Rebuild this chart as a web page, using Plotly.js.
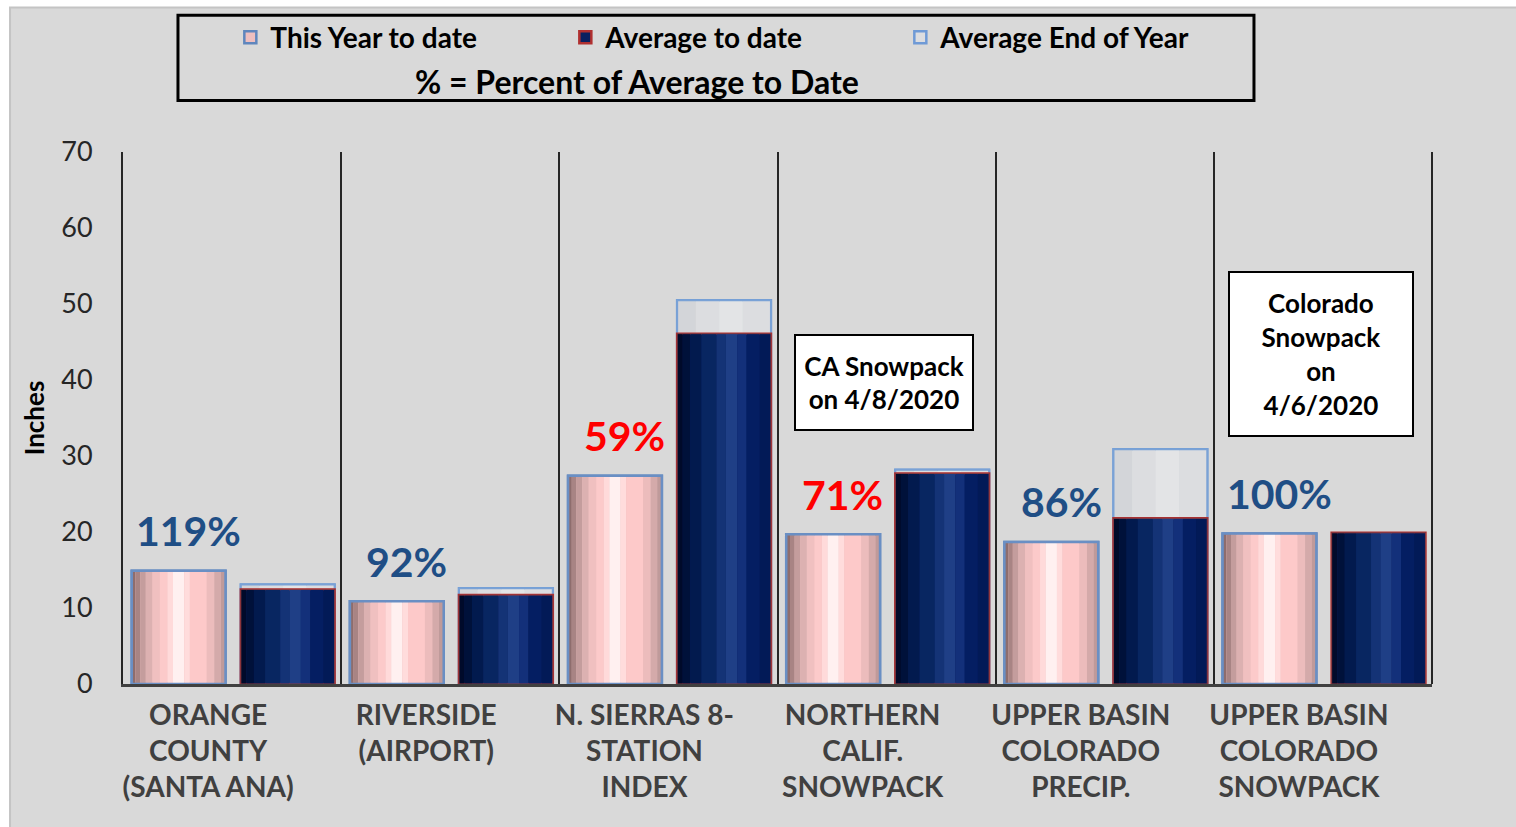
<!DOCTYPE html>
<html>
<head>
<meta charset="utf-8">
<script src="https://cdn.plot.ly/plotly-3.0.1.min.js"></script>
<style>
  html, body { margin: 0; padding: 0; background: #ffffff; }
  #chart { width: 1516px; height: 827px; }
</style>
</head>
<body>
<div id="chart"></div>
<script>
// data (inches)
const categories = [
    'ORANGE<br>COUNTY<br>(SANTA ANA)',
    'RIVERSIDE<br>(AIRPORT)',
    'N. SIERRAS 8-<br>STATION<br>INDEX',
    'NORTHERN<br>CALIF.<br>SNOWPACK',
    'UPPER BASIN<br>COLORADO<br>PRECIP.',
    'UPPER BASIN<br>COLORADO<br>SNOWPACK'
];
const thisYear = [14.9, 10.9, 27.4, 19.7, 18.7, 19.8];
const avgToDate = [12.45, 11.7, 46.1, 27.7, 21.8, 19.9];
const avgEndOfYear = [13.1, 12.6, 50.5, 28.2, 30.9, null];
const pctLabels = ['119%', '92%', '59%', '71%', '86%', '100%'];
const pctValues = [119, 92, 59, 71, 86, 100];
const yTicks = [0, 10, 20, 30, 40, 50, 60, 70];

const FONT = 'Lato, "Open Sans", sans-serif';
const BAR_W = 0.43;
const PINK_OFF = -0.46;
const NAVY_OFF = 0.04;

// fake the rounded "cylinder" shading with thin stripes of bars
function stripes(values, offset, stops) {
    return stops.map(([a, b, color]) => ({
        type: 'bar',
        x: categories,
        y: values,
        offset: offset + a * BAR_W,
        width: (b - a) * BAR_W,
        marker: { color: color, line: { width: 0 } },
        showlegend: false,
        hoverinfo: 'skip'
    }));
}

function outline(values, offset, color, w) {
    return {
        type: 'bar',
        x: categories,
        y: values,
        offset: offset,
        width: BAR_W,
        marker: { color: 'rgba(0,0,0,0)', line: { color: color, width: w } },
        showlegend: false,
        hoverinfo: 'skip'
    };
}

const pinkStops = [
    [0.00, 0.04, '#8e6d6d'], [0.04, 0.09, '#a88484'], [0.09, 0.15, '#c49d9d'],
    [0.15, 0.22, '#dcb1b1'], [0.22, 0.30, '#f0c0c0'], [0.30, 0.38, '#fccaca'],
    [0.38, 0.44, '#ffdada'], [0.44, 0.56, '#fff0f0'], [0.56, 0.62, '#ffdcdc'],
    [0.62, 0.80, '#fdc9c9'], [0.80, 0.88, '#ecbcbc'], [0.88, 0.95, '#d4aaaa'],
    [0.95, 1.00, '#bf9a9a']
];
const navyStops = [
    [0.00, 0.06, '#000a2a'], [0.06, 0.14, '#00113a'], [0.14, 0.26, '#021a4e'],
    [0.26, 0.42, '#082661'], [0.42, 0.52, '#143376'], [0.52, 0.64, '#1f3f86'],
    [0.64, 0.74, '#13307a'], [0.74, 0.88, '#041e62'], [0.88, 1.00, '#021a57']
];
const endStops = [
    [0.00, 0.20, '#d3d5d9'], [0.20, 0.45, '#dcdde0'], [0.45, 0.70, '#e3e4e6'],
    [0.70, 1.00, '#dcdde0']
];

const traces = [];

// average end of year (behind the navy bar)
traces.push({
    type: 'bar', name: 'Average End of Year', x: categories, y: avgEndOfYear,
    offset: NAVY_OFF, width: BAR_W, legendrank: 3,
    marker: { color: '#dcdde0', line: { color: '#6f9ad6', width: 2.5 } },
    hoverinfo: 'skip'
});
traces.push(...stripes(avgEndOfYear, NAVY_OFF, endStops));
traces.push(outline(avgEndOfYear, NAVY_OFF, '#7aa2d6', 2));

// average to date
traces.push({
    type: 'bar', name: 'Average to date', x: categories, y: avgToDate,
    offset: NAVY_OFF, width: BAR_W, legendrank: 2,
    marker: { color: '#0a2060', line: { color: '#b03030', width: 2.5 } },
    hoverinfo: 'skip'
});
traces.push(...stripes(avgToDate, NAVY_OFF, navyStops));
traces.push(outline(avgToDate, NAVY_OFF, '#8a3a40', 1));

// this year to date
traces.push({
    type: 'bar', name: 'This Year to date', x: categories, y: thisYear,
    offset: PINK_OFF, width: BAR_W, legendrank: 1,
    marker: { color: '#eebfbf', line: { color: '#5f86bd', width: 2.5 } },
    hoverinfo: 'skip'
});
traces.push(...stripes(thisYear, PINK_OFF, pinkStops));
traces.push(outline(thisYear, PINK_OFF, '#6a8fc4', 2.5));

const annotations = pctLabels.map((t, i) => ({
    x: i - 0.2,
    y: thisYear[i],
    xref: 'x',
    yref: 'y',
    xanchor: 'center',
    yanchor: 'middle',
    text: t,
    showarrow: false,
    yshift: 40,
    font: { family: FONT, size: 41, weight: 'bold', color: pctValues[i] < 75 ? '#ff0000' : '#1f4e85' }
}));

annotations.push({
    xref: 'paper', yref: 'paper', x: 0.393, y: 1.133,
    xanchor: 'center', yanchor: 'middle',
    text: '% = Percent of Average to Date',
    showarrow: false, font: { family: FONT, size: 32, weight: 'bold', color: '#000000' }
});
annotations.push({
    xref: 'paper', yref: 'paper', x: 0.581, y: 0.567,
    xanchor: 'center', yanchor: 'middle',
    text: 'CA Snowpack<br>on 4/8/2020',
    showarrow: false, bgcolor: '#ffffff', bordercolor: '#000000', borderwidth: 2,
    width: 174, height: 91, align: 'center',
    font: { family: FONT, size: 26, weight: 'bold', color: '#000000' }
});
annotations.push({
    xref: 'paper', yref: 'paper', x: 0.915, y: 0.620,
    xanchor: 'center', yanchor: 'middle',
    text: 'Colorado<br>Snowpack<br>on<br>4/6/2020',
    showarrow: false, bgcolor: '#ffffff', bordercolor: '#000000', borderwidth: 2,
    width: 180, height: 160, align: 'center',
    font: { family: FONT, size: 26, weight: 'bold', color: '#000000' }
});

const layout = {
    width: 1516,
    height: 827,
    margin: { l: 123, r: 84, t: 150, b: 143, pad: 0 },
    paper_bgcolor: '#ffffff',
    plot_bgcolor: '#d9d9d9',
    barmode: 'overlay',
    showlegend: true,
    hovermode: false,
    legend: {
        orientation: 'h',
        x: 0.082, xanchor: 'left',
        y: 1.262, yanchor: 'top',
        entrywidth: 290, entrywidthmode: 'pixels',
        bgcolor: 'rgba(0,0,0,0)',
        traceorder: 'normal',
        font: { family: FONT, size: 28, weight: 'bold', color: '#000000' }
    },
    xaxis: {
        type: 'category',
        range: [-0.5, 5.5],
        tickson: 'boundaries',
        showgrid: true,
        gridcolor: '#262626',
        gridwidth: 2,
        ticks: '',
        showline: true,
        linecolor: '#404040',
        linewidth: 3,
        ticklabelshift: -24,
        ticklabelstandoff: 4,
        tickfont: { family: FONT, size: 28, color: '#404040', weight: 'bold' },
        fixedrange: true
    },
    yaxis: {
        range: [0, 70],
        tickvals: yTicks,
        showgrid: false,
        zeroline: false,
        showline: true,
        linecolor: '#262626',
        linewidth: 2,
        ticks: '',
        ticklabelstandoff: 23,
        tickfont: { family: FONT, size: 27, color: '#262626' },
        title: { text: 'Inches', standoff: 9, font: { family: FONT, size: 26, weight: 'bold', color: '#000000' } },
        fixedrange: true
    },
    shapes: [
        {
            type: 'rect', xref: 'paper', yref: 'paper', layer: 'below',
            x0: -0.0863, x1: 1.07, y0: -0.3, y1: 1.2715,
            fillcolor: '#d9d9d9', line: { color: '#c4c4c4', width: 2 }
        },
        {
            type: 'rect', xref: 'paper', yref: 'paper',
            x0: 0.042, x1: 0.864, y0: 1.097, y1: 1.257,
            fillcolor: 'rgba(0,0,0,0)', line: { color: '#000000', width: 3 }
        },
        {
            // closing boundary line at the right edge of the plot
            type: 'line', xref: 'paper', yref: 'paper',
            x0: 1, x1: 1, y0: 0, y1: 1,
            line: { color: '#262626', width: 2 }
        }
    ],
    annotations: annotations
};

Plotly.newPlot('chart', traces, layout, { displayModeBar: false, staticPlot: true });
</script>
</body>
</html>
